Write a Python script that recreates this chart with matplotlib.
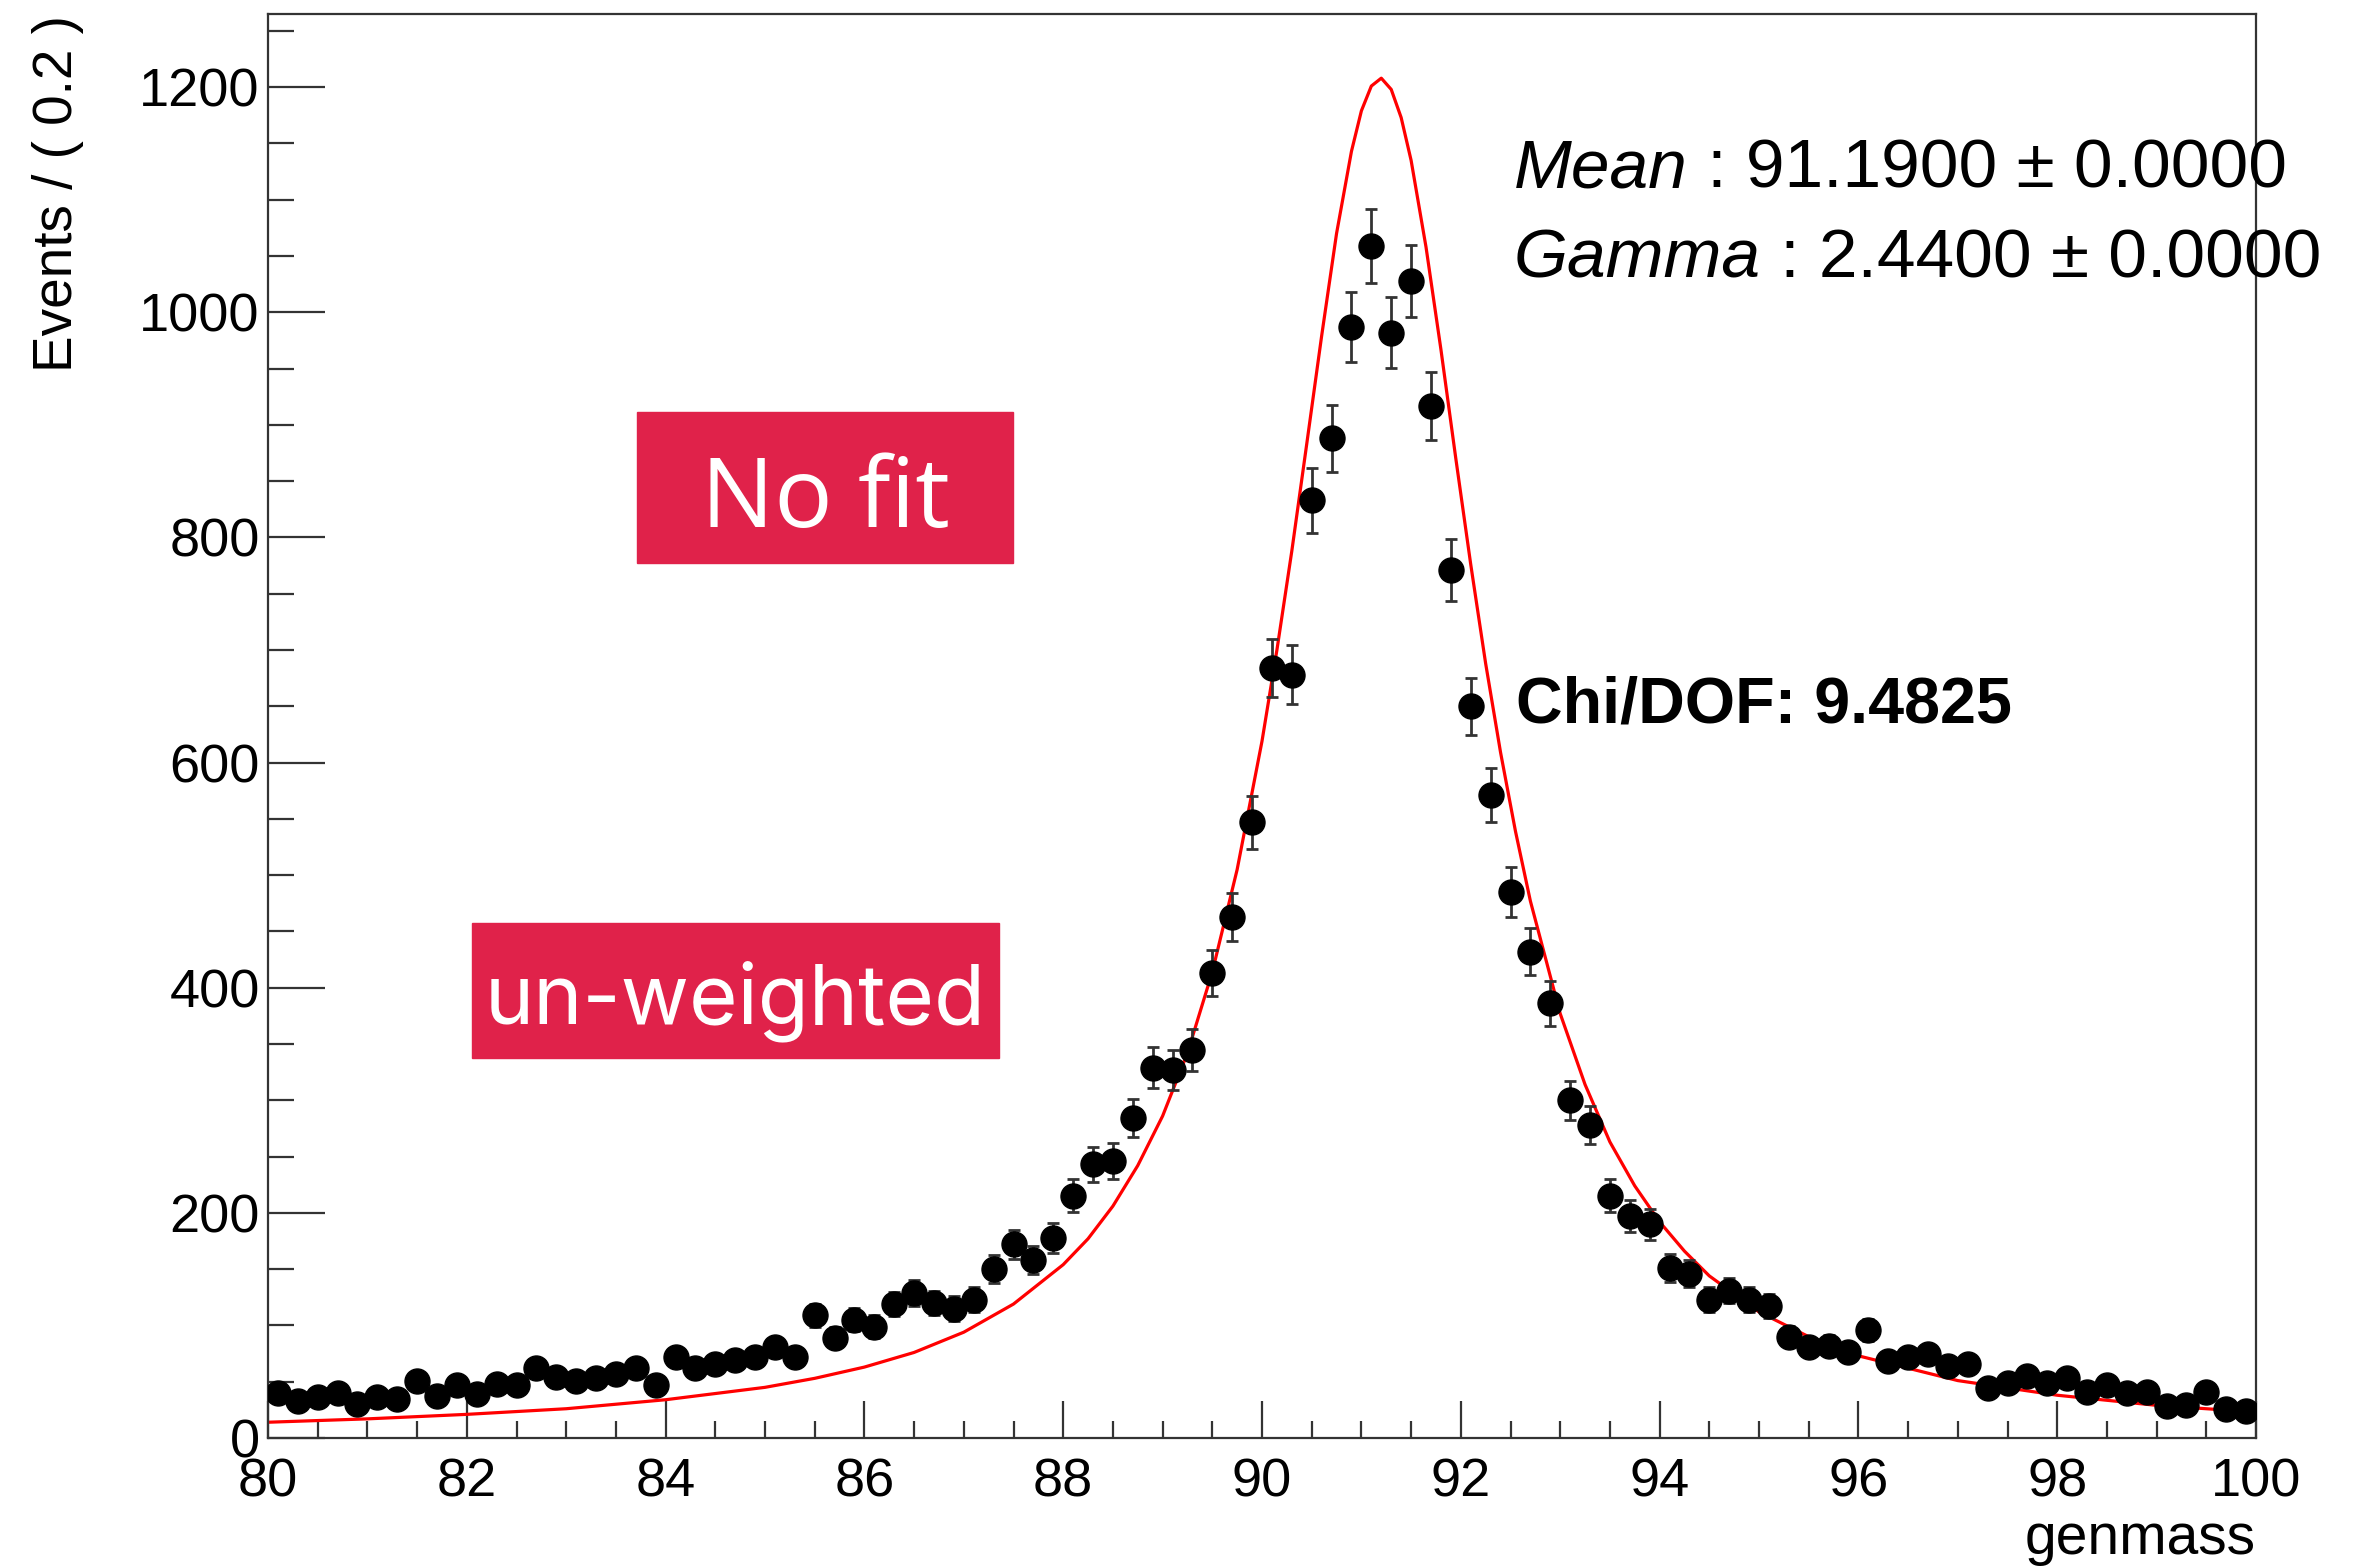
import numpy as np
import matplotlib
matplotlib.use('Agg')
import matplotlib.pyplot as plt
from matplotlib.patches import Rectangle
from matplotlib.ticker import MultipleLocator

W, H = 2366, 1567
OUT_PATH = 'out.png'

# histogram: 100 bins of 0.2 between 80 and 100
X_LO, X_HI, N_BINS = 80.0, 100.0, 100
counts = [
    40, 33, 36, 40, 30, 36, 35, 51, 37, 47,
    39, 48, 47, 62, 54, 51, 53, 57, 62, 47,
    72, 62, 66, 69, 72, 81, 72, 109, 89, 105,
    99, 119, 129, 120, 115, 123, 150, 172, 158, 178,
    215, 243, 246, 284, 329, 327, 345, 413, 463, 547,
    684, 678, 833, 888, 987, 1059, 982, 1028, 917, 771,
    650, 571, 485, 432, 386, 300, 278, 215, 197, 190,
    151, 146, 123, 131, 123, 117, 90, 81, 82, 76,
    96, 68, 72, 75, 64, 66, 44, 49, 55, 49,
    53, 41, 47, 40, 41, 28, 29, 41, 26, 24,
]

# red model curve
curve_x = [80, 81, 82, 83, 84, 85, 85.5, 86, 86.5, 87, 87.5, 88, 88.25,
           88.5, 88.75, 89, 89.25, 89.5, 89.75, 90, 90.15, 90.3, 90.45,
           90.6, 90.75, 90.9, 91.0, 91.1, 91.2, 91.3, 91.4, 91.5, 91.65,
           91.8, 91.95, 92.1, 92.25, 92.4, 92.55, 92.7, 93, 93.25, 93.5,
           93.75, 94, 94.25, 94.5, 95, 95.5, 96, 97, 98, 99, 100]
curve_y = [14, 17, 21, 26, 34, 45, 53, 63, 76, 94, 119, 154, 177,
           206, 242, 286, 342, 414, 505, 619, 700, 788, 883,
           979, 1070, 1143, 1179, 1201, 1208, 1198, 1173, 1135, 1058,
           967, 870, 776, 688, 609, 539, 477, 377, 314, 263,
           224, 192, 166, 144, 112, 90, 73, 51, 38, 29, 23]

x_ticks = [80, 82, 84, 86, 88, 90, 92, 94, 96, 98, 100]
y_ticks = [0, 200, 400, 600, 800, 1000, 1200]
Y_MAX = 1265

stats_lines = [('Mean', ' : 91.1900 \u00b1 0.0000'),
               ('Gamma', ' : 2.4400 \u00b1 0.0000')]
chi_text = 'Chi/DOF: 9.4825'

BOX_COLOR = '#E0224A'
FONT = 'Liberation Sans'


def fx(px):
    return px / W


def fy(py):
    return 1 - py / H


def main():
    plt.rcParams['font.family'] = [FONT, 'DejaVu Sans']
    fig = plt.figure(figsize=(W / 100, H / 100), dpi=100)
    ax = fig.add_axes([fx(268), fy(1438), fx(2256) - fx(268), fy(14) - fy(1438)])

    edges = np.linspace(X_LO, X_HI, N_BINS + 1)
    centers = 0.5 * (edges[:-1] + edges[1:])
    y = np.array(counts, dtype=float)
    err = np.sqrt(y)

    ax.plot(curve_x, curve_y, color='#FF0000', lw=2.3, zorder=2)
    ax.errorbar(centers, y, yerr=err, fmt='o', color='black', ms=18,
                ecolor='#333333', elinewidth=2.0, capsize=4, capthick=2.0,
                zorder=3)

    ax.set_xlim(X_LO, X_HI)
    ax.set_ylim(0, Y_MAX)
    ax.set_xticks(x_ticks)
    ax.set_yticks(y_ticks)
    ax.xaxis.set_minor_locator(MultipleLocator(0.5))
    ax.yaxis.set_minor_locator(MultipleLocator(50))
    ax.tick_params(axis='both', which='both', direction='in', colors='#333333',
                   width=1.6, labelcolor='black', labelsize=39)
    ax.tick_params(axis='x', which='major', length=27, pad=14)
    ax.tick_params(axis='x', which='minor', length=12)
    ax.tick_params(axis='y', which='major', length=41, pad=6)
    ax.tick_params(axis='y', which='minor', length=19)
    for sp in ax.spines.values():
        sp.set_color('#333333')
        sp.set_linewidth(1.6)

    fig.text(fx(58), fy(15), 'Events / ( 0.2 )', rotation=90, ha='center',
             va='top', fontsize=39.5)
    fig.text(fx(2256), fy(1539), 'genmass', ha='right', va='center',
             fontsize=41)

    # fit parameter box text (runs past the frame like the original)
    for (name, rest), yc in zip(stats_lines, [169, 259]):
        t = fig.text(fx(1514), fy(yc), name, style='italic', ha='left',
                     va='center', fontsize=50)
        ax.annotate(rest, xy=(1, 0.5), xycoords=t, ha='left', va='center',
                    fontsize=50, annotation_clip=False)

    fig.text(fx(1516), fy(706), chi_text, ha='left', va='center',
             fontsize=46.5, fontweight='bold')

    # red labels
    fig.patches.append(Rectangle((fx(637), fy(563)), fx(1013) - fx(637),
                                 fy(412) - fy(563), transform=fig.transFigure,
                                 color=BOX_COLOR, zorder=5))
    fig.text(fx(825), fy(502), 'No fit', ha='center', va='center', color='white',
             fontsize=70, family=['Open Sans', 'DejaVu Sans'], zorder=6)
    fig.patches.append(Rectangle((fx(472), fy(1058)), fx(999) - fx(472),
                                 fy(923) - fy(1058), transform=fig.transFigure,
                                 color=BOX_COLOR, zorder=5))
    fig.text(fx(735), fy(1001), 'un-weighted', ha='center', va='center',
             color='white', fontsize=60, family=['Inter', 'DejaVu Sans'],
             zorder=6)

    fig.savefig(OUT_PATH, dpi=100)
    plt.close(fig)


if __name__ == '__main__':
    main()
